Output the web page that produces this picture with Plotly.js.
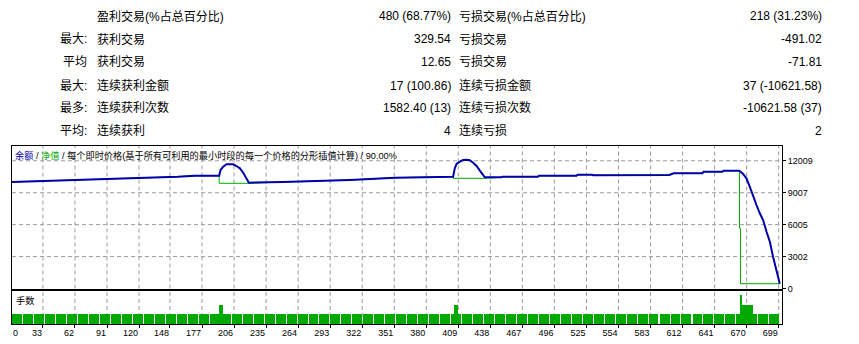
<!DOCTYPE html>
<html>
<head>
<meta charset="utf-8">
<script src="https://cdn.plot.ly/plotly-3.0.1.min.js"></script>
<style>html,body{margin:0;padding:0;background:#fff;}#chart{width:859px;height:344px;}</style>
</head>
<body>
<div id="chart"></div>
<script>
// ---- summary table ----
const rowPrefix   = ["", "最大:", "平均", "最大:", "最多:", "平均:"];
const leftLabels  = ["盈利交易(%占总百分比)", "获利交易", "获利交易", "连续获利金额", "连续获利次数", "连续获利"];
const leftValues  = ["480 (68.77%)", "329.54", "12.65", "17 (100.86)", "1582.40 (13)", "4"];
const rightLabels = ["亏损交易(%占总百分比)", "亏损交易", "亏损交易", "连续亏损金额", "连续亏损次数", "连续亏损"];
const rightValues = ["218 (31.23%)", "-491.02", "-71.81", "37 (-10621.58)", "-10621.58 (37)", "2"];

// ---- balance / equity curves (trade number, account value) ----
const balX = [0,20,40,70,100,125,155,170,180,191.4,
  192.5,193.8,196.2,199.2,202.2,205.2,208.2,211.3,214.3,217.3,219.4,
  250.2,280,310.8,352,378,382,404.3,
  405.8,407.4,410.4,413.4,416.4,419.4,422.4,425.5,428.5,431.5,433,
  448,449,481,482,516,517,530,531,600,604,630,631,648,649,663.2,
  663.8,666.8,669.8,672.8,675.8,678.9,681.9,684.9,688,691,693.9,697,700];
const balY = [10000,10060,10150,10250,10330,10420,10510,10600,10580,10610,
  10610,11144,11454,11680,11708,11680,11520,11303,10890,10363,9949,
  10015,10110,10204,10420,10457,10514,10514,
  11303,11708,11924,12084,12112,12056,11830,11520,11078,10608,10457,
  10457,10514,10514,10608,10608,10702,10702,10650,10680,10833,10833,10984,10984,11078,11078,
  11050,10768,10363,9573,8633,7852,7072,6442,5341,4401,2990,1740,450];
const eqX = [0,20,40,70,100,125,155,170,180,191.4,192.5,192.5,219.4,250.2,280,310.8,352,378,382,
  404.3,404.3,433,448,449,481,482,516,517,530,531,600,604,630,631,648,649,663.5,663.5,664.4,664.4,700];
const eqY = [10000,10060,10150,10250,10330,10420,10510,10600,10580,10610,10610,9893,9893,10015,10110,10204,10420,10457,10514,
  10514,10363,10363,10457,10514,10514,10608,10608,10702,10702,10650,10680,10833,10833,10984,10984,11078,11078,5660,5660,450,450];

// ---- lots histogram ----
const lotBins = [9.8,19.7,29.7,39.6,49.5,59.5,69.4,79.3,89.2,99.2,109.1,119.0,129.0,138.9,148.8,158.8,168.7,178.6,188.5,198.5,
  208.4,218.3,228.3,238.2,248.1,258.1,268.0,277.9,287.8,297.8,307.7,317.6,327.6,337.5,347.4,357.4,367.3,377.2,387.1,397.1,
  407.0,416.9,426.9,436.8,446.7,456.7,466.6,476.5,486.4,496.4,506.3,516.2,526.2,536.1,546.0,556.0,565.9,575.8,585.7,595.7,
  605.6,615.5,625.5,635.4,645.3,655.3,665.2,675.1,685.0,695.0];
const lotValues = [1,1,1,1,1,1,1,1,1,1,1,1,1,1,1,1,1,1,1,1,
  1,1,1,1,1,1,1,1,1,1,1,1,1,1,1,1,1,1,1,1,
  1,1,1,1,1,1,1,1,1,1,1,1,1,1,1,1,1,1,1,1,
  1,1,1,1,1,1,1,1,1,1];
const spikeX = [194.2, 406.8, 664.7, 670.8];
const spikeLots = [2, 2, 3, 2];
const spikeSpan = [3.9, 3.6, 1.8, 10.3];

// ---- axes ----
const xTickVals = [33,62,91,120,148,177,206,235,264,293,322,351,380,409,438,467,496,525,554,583,612,641,670,699];
const xTickText = ["33","62","91","120","148","177","206","235","264","293","322","351","380","409","438","467","496","525","554","583","612","641","670","699"];
const yTickVals = [0,3002,6005,9007,12009];
const yTickText = ["0","3002","6005","9007","12009"];

const BLUE = '#0000a8', GREEN = '#00a800', GRID = '#9c9c9c';
const L = 12, R = 782, T = 146, B = 324;
const pxX = x => (x - L) / (R - L);
const pxY = y => (B - y) / (B - T);
const FONT = 'Liberation Sans, Arial, Noto Sans CJK SC, sans-serif';

const traces = [
  {type:'scatter', mode:'lines', x:eqX, y:eqY, xaxis:'x', yaxis:'y',
   line:{color:GREEN, width:1}, hoverinfo:'skip'},
  {type:'scatter', mode:'lines', x:balX, y:balY, xaxis:'x', yaxis:'y',
   line:{color:BLUE, width:2}, hoverinfo:'skip'},
  {type:'bar', x:lotBins, y:lotValues, width:9, xaxis:'x2', yaxis:'y2',
   marker:{color:GREEN, line:{width:0}}, hoverinfo:'skip'},
  {type:'bar', x:spikeX, y:spikeLots, width:spikeSpan, xaxis:'x2', yaxis:'y2',
   marker:{color:GREEN, line:{width:0}}, hoverinfo:'skip'}
];

// dashed grid drawn as shapes at the tick values
const shapes = [];
const gridLine = {color:GRID, width:1, dash:'4px,3px'};
xTickVals.forEach(v => {
  shapes.push({type:'line', layer:'below', xref:'x', yref:'y domain', x0:v, x1:v, y0:0, y1:1, line:gridLine});
  shapes.push({type:'line', layer:'below', xref:'x2', yref:'y2 domain', x0:v, x1:v, y0:0, y1:1, line:gridLine});
});
yTickVals.slice(1).forEach(v => {
  shapes.push({type:'line', layer:'below', xref:'x domain', yref:'y', x0:0, x1:1, y0:v, y1:v, line:gridLine});
});

const annotations = [];
const rowY = [16, 39, 62, 85.5, 108, 131];
function addText(text, x, y, anchor, size){
  annotations.push({text:text, xref:'paper', yref:'paper', x:pxX(x), y:pxY(y),
    xanchor:anchor, yanchor:'middle', showarrow:false, borderpad:0,
    font:{family:FONT, size:size, color:'#000'}});
}
for (let i = 0; i < rowY.length; i++) {
  if (rowPrefix[i]) addText(rowPrefix[i], 88, rowY[i], 'right', 12);
  addText(leftLabels[i], 96, rowY[i], 'left', 12);
  addText(leftValues[i], 451.5, rowY[i], 'right', 12);
  addText(rightLabels[i], 458, rowY[i], 'left', 12);
  addText(rightValues[i], 822.5, rowY[i], 'right', 12);
}
addText('<span style="color:'+BLUE+'">余额</span> / <span style="color:'+GREEN+'">净值</span> / 每个即时价格(基于所有可利用的最小时段的每一个价格的分形插值计算) / 90.00%', 14, 155, 'left', 9.2);
addText('手数', 14.5, 300, 'left', 9.2);
addText('0', 11.5, 333, 'left', 9);

const mainBottom = pxY(288.5), lowTop = pxY(291);
const frame = {showgrid:false, zeroline:false, showline:true, mirror:true, linecolor:'#000', linewidth:1};

const layout = {
  width:859, height:344,
  margin:{l:L, r:859-R, t:T, b:344-B, pad:0},
  paper_bgcolor:'#fff', plot_bgcolor:'#fff',
  showlegend:false, barmode:'overlay', bargap:0,
  font:{family:FONT, size:9, color:'#000'},
  xaxis:Object.assign({domain:[0,1], anchor:'y', range:[5,702], tickvals:xTickVals,
    showticklabels:false, ticks:''}, frame),
  yaxis:Object.assign({domain:[mainBottom,1], anchor:'x', side:'right', range:[0,13400],
    tickvals:yTickVals, ticktext:yTickText, ticks:'outside', ticklen:3, tickcolor:'#000',
    tickfont:{family:FONT, size:9, color:'#000'}}, frame),
  xaxis2:Object.assign({domain:[0,1], anchor:'y2', range:[5,702], tickvals:xTickVals, ticktext:xTickText,
    ticklabelposition:'outside left', ticks:'outside', ticklen:3, tickcolor:'#000',
    tickfont:{family:FONT, size:9, color:'#000'}}, frame),
  yaxis2:Object.assign({domain:[0,lowTop], anchor:'x2', range:[0,3.4], showticklabels:false, ticks:''}, frame),
  shapes:shapes,
  annotations:annotations
};

Plotly.newPlot('chart', traces, layout, {staticPlot:true, displayModeBar:false});
</script>
</body>
</html>
